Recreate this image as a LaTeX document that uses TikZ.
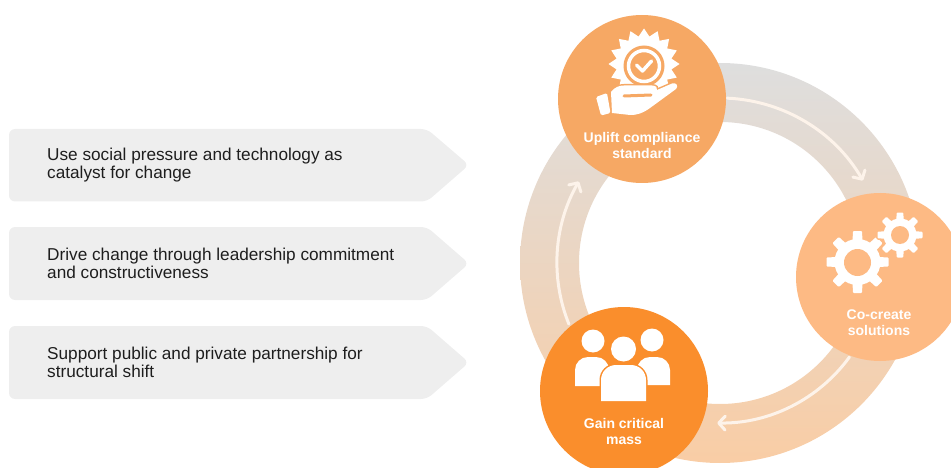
\documentclass[tikz,border=0pt]{standalone}
\usepackage{fontspec}
\setmainfont{Liberation Sans}
\usetikzlibrary{arrows.meta,shapes.geometric,calc}
\definecolor{boxgray}{RGB}{238,238,238}
\definecolor{txt}{RGB}{30,30,30}
\definecolor{ringtop}{RGB}{222,222,222}
\definecolor{ringbot}{RGB}{249,205,165}
\definecolor{cup}{RGB}{246,168,100}
\definecolor{cright}{RGB}{253,186,132}
\definecolor{cbot}{RGB}{250,142,44}
\definecolor{arr}{RGB}{253,243,234}
\newcommand\mygear[6]{% center, body r, tooth r, half width, tip half width, style
  \foreach \a in {0,45,...,315}{
    \path[#6, rotate around={\a:#1}, rounded corners=1pt] ($#1+(-#4,0)$) -- ($#1+(-#5,-#3)$) -- ($#1+(#5,-#3)$) -- ($#1+(#4,0)$) -- cycle;
  }
  \path[#6] #1 circle[radius=#2];
}
\newcommand\personbody[5]{(#1,#4) -- (#1,#3+#5) arc[start angle=180,end angle=270,radius=#5] -- (#2-#5,#3) arc[start angle=270,end angle=360,radius=#5] -- (#2,#4) -- cycle}
\newcommand\handpath{(611,92) .. controls (615,87) and (619,85.5) .. (624,85.5) -- (652,85.5) .. controls (656,85.5) and (658,88) .. (657,90) -- (672,83.5) .. controls (676,82) and (679,86) .. (676,89) -- (650,108) .. controls (643,113) and (638,115) .. (630,115) -- (612,113) -- cycle}
\newcommand\sleevepath{(596,97) -- (607,93) -- (610.5,113) -- (601,115.5) -- cycle}
\begin{document}
\begin{tikzpicture}[x=1pt,y=-1pt,
  chevbox/.style={fill=boxgray, rounded corners=6pt},
  boxtext/.style={anchor=west, align=left, text=txt, font=\fontsize{17.2}{18.5}\selectfont, inner sep=0pt},
  stage/.style={circle, minimum size=168pt, inner sep=0pt},
  stagetext/.style={text=white, align=center, font=\bfseries\fontsize{14}{16}\selectfont, inner sep=0pt},
  cyclearrow/.style={draw=arr, line width=3pt, line cap=round, -{Straight Barb[length=6.5pt,width=14pt,line cap=round,line join=round]}},
  gearfill/.style={fill=white},
  gearedge/.style={draw=cright, line width=3pt},
  iconedgeup/.style={draw=cup, line width=3pt},
]
\useasboundingbox (0,0) rectangle (951,468);
% left chevron boxes
\fill[chevbox] (9,129) -- (427,129) -- (469,165) -- (427,201.5) -- (9,201.5) -- cycle;
\fill[chevbox] (9,227) -- (427,227) -- (469,263.5) -- (427,300) -- (9,300) -- cycle;
\fill[chevbox] (9,326) -- (427,326) -- (469,362.5) -- (427,399) -- (9,399) -- cycle;
\node[boxtext] (t1) at (47,165) {Use social pressure and technology as\\catalyst for change};
\node[boxtext] (t2) at (47,263.5) {Drive change through leadership commitment\\and constructiveness};
\node[boxtext] (t3) at (47,362.5) {Support public and private partnership for\\structural shift};
% ring
\coordinate (ctr) at (720,263);
\shade[top color=ringtop, bottom color=ringbot, even odd rule] (ctr) circle[radius=200] (ctr) circle[radius=141];
% cycle arrows
\coordinate (a1) at ($(ctr)+(-87.5:165)$);
\coordinate (a2) at ($(ctr)+(36:160)$);
\coordinate (a3) at ($(ctr)+(158:163)$);
\draw[cyclearrow] (a1) arc[start angle=-87.5, end angle=-30, radius=165];
\draw[cyclearrow] (a2) arc[start angle=36, end angle=91, radius=160];
\draw[cyclearrow] (a3) arc[start angle=158, end angle=210, radius=163];
% stage circles
\node[stage, fill=cup] (up) at (642,99) {};
\node[stage, fill=cright] (co) at (880,277) {};
\node[stage, fill=cbot] (gain) at (624,391) {};
\node[stagetext] (upt) at (642,145) {Uplift compliance\\standard};
\node[stagetext] (cot) at (879,323) {Co-create\\solutions};
\node[stagetext] (gat) at (624,431) {Gain critical\\mass};
% badge icon
\node[star, star points=16, star point ratio=1.27, fill=white, minimum size=71pt, inner sep=0pt] (burst) at (644,64) {};
\fill[cup] (644,66) circle[radius=20.5];
\draw[white, line width=3.5pt] (644,66) circle[radius=15.5];
\draw[white, line width=3.5pt, line cap=round, line join=round] (636.5,65) -- (642.5,71) -- (651.5,61);
\path[iconedgeup, rounded corners=1.5pt] \sleevepath;
\path[iconedgeup] \handpath;
\fill[white, rounded corners=1.5pt] \sleevepath;
\fill[white] \handpath;
\draw[cup, line width=3pt, line cap=round] (624,96) -- (651,95);
% gears icon
\mygear{(857.5,262)}{23}{31}{6}{4.5}{gearfill}
\fill[cright] (857.5,262.5) circle[radius=13.5];
\mygear{(900,235)}{16.5}{22.5}{4.5}{3.3}{gearedge}
\mygear{(900,235)}{16.5}{22.5}{4.5}{3.3}{gearfill}
\fill[cright] (900,235) circle[radius=9];
% people icon
\fill[white] (593,341) circle[radius=11.5];
\fill[white] (652,340) circle[radius=11.5];
\fill[white] \personbody{575}{609}{357}{386}{13};
\fill[white] \personbody{637}{670}{357}{385}{13};
\draw[cbot, line width=3pt] \personbody{601}{646}{365}{401}{15};
\draw[cbot, line width=3pt] (623.5,349) circle[radius=12.5];
\fill[white] \personbody{601}{646}{365}{401}{15};
\fill[white] (623.5,349) circle[radius=12.5];
\end{tikzpicture}
\end{document}
